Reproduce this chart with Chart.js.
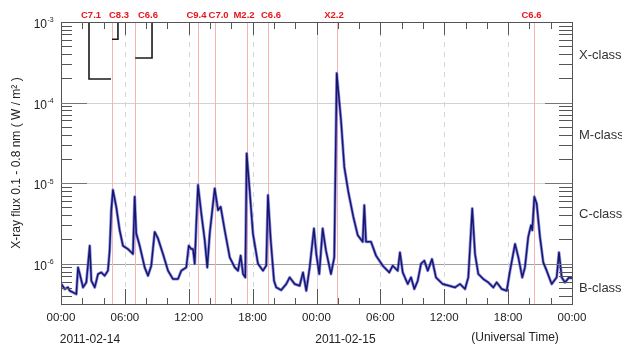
<!DOCTYPE html>
<html><head><meta charset="utf-8">
<script src="https://cdn.jsdelivr.net/npm/chart.js@4.4.1/dist/chart.umd.min.js"></script>
<style>html,body{margin:0;padding:0;background:#fff;}canvas{display:block}</style>
</head><body>
<canvas id="c" width="622" height="348"></canvas>
<script>
// Hours since 2011-02-14 00:00 UT
const hours = [0.03,0.35,0.66,0.82,1.13,1.44,1.60,1.76,2.07,2.38,2.70,2.85,3.17,3.48,3.79,4.10,4.41,4.57,4.72,4.88,5.19,5.51,5.82,6.29,6.76,6.92,7.07,7.39,7.86,8.17,8.48,8.80,9.11,9.58,10.05,10.52,10.99,11.30,11.77,12.00,12.24,12.40,12.56,12.71,12.87,13.18,13.50,13.74,13.97,14.44,14.75,15.00,15.38,15.85,16.32,16.63,16.88,17.10,17.31,17.44,17.72,18.03,18.50,18.97,19.28,19.44,19.70,20.01,20.22,20.69,21.16,21.48,21.95,22.42,22.73,23.04,23.36,23.76,23.98,24.26,24.58,24.89,25.36,25.67,25.90,26.30,26.61,26.99,27.46,27.87,28.34,28.49,28.65,29.12,29.59,30.22,30.84,31.16,31.63,31.84,32.10,32.57,32.88,33.19,33.51,33.82,34.13,34.45,34.85,35.22,35.85,36.47,37.01,37.48,37.95,38.26,38.63,38.89,39.20,39.67,40.14,40.61,40.93,41.40,41.87,42.18,42.65,42.96,43.33,43.58,43.89,44.15,44.27,44.46,44.68,44.99,45.30,45.62,46.09,46.56,46.78,47.03,47.34,47.72,48.00];
// X-ray flux 0.1-0.8 nm (W/m^2)
const flux = [5.6e-7,4.85e-7,5.08e-7,4.62e-7,4.4e-7,4.2e-7,9.0e-7,7.5e-7,5.08e-7,5.86e-7,1.67e-6,6.15e-7,5.08e-7,7.45e-7,7.8e-7,7.1e-7,8.2e-7,1.45e-6,4.62e-6,8.2e-6,5.08e-6,2.6e-6,1.67e-6,1.52e-6,1.32e-6,6.76e-6,2.37e-6,1.67e-6,9.0e-7,7.1e-7,9.45e-7,2.48e-6,2.06e-6,1.32e-6,8.2e-7,6.45e-7,6.45e-7,8.2e-7,9.0e-7,1.67e-6,1.52e-6,1.52e-6,1.0e-6,3.18e-6,9.45e-6,4.2e-6,1.96e-6,9.0e-7,2.37e-6,8.6e-6,4.62e-6,5.08e-6,2.6e-6,1.2e-6,9.0e-7,8.2e-7,1.26e-6,7.45e-7,6.76e-7,2.34e-5,8.2e-6,2.37e-6,1.0e-6,8.2e-7,9.45e-7,7.1e-6,1.96e-6,6.15e-7,5.08e-7,4.71e-7,5.6e-7,6.76e-7,5.6e-7,5.33e-7,7.8e-7,4.62e-7,9.0e-7,2.73e-6,1.32e-6,7.45e-7,2.73e-6,1.45e-6,7.45e-7,1.2e-6,2.31e-4,6.07e-5,1.59e-5,7.8e-6,3.81e-6,2.26e-6,1.87e-6,5.33e-6,1.87e-6,1.87e-6,1.26e-6,9.45e-7,7.8e-7,9.45e-7,8.2e-7,1.38e-6,7.8e-7,5.6e-7,6.76e-7,4.85e-7,6.15e-7,1.0e-6,1.09e-6,8.2e-7,1.14e-6,6.76e-7,5.6e-7,5.33e-7,5.08e-7,5.6e-7,4.85e-7,6.76e-7,4.85e-6,1.32e-6,7.45e-7,6.45e-7,5.86e-7,5.08e-7,5.86e-7,4.85e-7,4.62e-7,8.2e-7,1.76e-6,1.2e-6,6.76e-7,9.0e-7,2.15e-6,3.0e-6,2.6e-6,6.76e-6,5.6e-6,2.15e-6,1.04e-6,8.2e-7,5.6e-7,6.76e-7,1.38e-6,6.76e-7,5.86e-7,6.76e-7,6.6e-7];

const flareHours = [4.79, 6.97, 12.87, 14.44, 17.44, 19.44, 25.90, 44.46];
const flareLabels = ['C7.1','C8.3','C6.6','C9.4','C7.0','M2.2','C6.6','X2.2','C6.6'];
const flareLabelHours = [2.82, 5.45, 8.17, 12.72, 14.8, 17.19, 19.73, 25.64, 44.2];
const bracketHours = [[2.63,2.63,4.70],[4.79,5.35,5.35],[6.97,8.55,8.55]];
const bracketFlux = [[1.5e-3,1.96e-4,1.96e-4],[6.1e-4,6.1e-4,1.5e-3],[3.57e-4,3.57e-4,1.5e-3]];
const classNames = ['X-class','M-class','C-class','B-class'];
const classLabelFlux = [3.9e-4, 3.9e-5, 4.1e-6, 5.0e-7];
const decadeExp = [-3,-4,-5,-6];
const dateLabels = ['2011-02-14','2011-02-15'];
const dateLabelHours = [2.72, 26.72];
const utLabel = '(Universal Time)';
const utLabelHour = 42.65;
const yMin = 3.1623e-7, yMax = 1e-3;

const FONT = '"Liberation Sans", Arial, Helvetica, sans-serif';

function ln(ctx,x1,y1,x2,y2){ctx.beginPath();ctx.moveTo(x1,y1);ctx.lineTo(x2,y2);ctx.stroke();}
const al = v => Math.round(v)+0.5;

const decor = {
  id:'decor',
  beforeDatasetsDraw(chart){
    const {ctx, chartArea:a, scales:{x,y}} = chart;
    ctx.save();
    ctx.lineWidth = 1;
    [1e-4,1e-5,1e-6].forEach(v=>{
      const py = al(y.getPixelForValue(v));
      ctx.strokeStyle = v===1e-6 ? '#a0a0a0' : '#d2d2d2';
      ln(ctx,a.left,py,a.right,py);
    });
    for(let h=6;h<48;h+=6){
      const px = al(x.getPixelForValue(h));
      if(h%24===0){ctx.setLineDash([]);ctx.strokeStyle='#d8d8d8';}
      else {ctx.setLineDash([5,5]);ctx.strokeStyle='#d6d6d6';}
      ln(ctx,px,a.top,px,a.bottom);
    }
    ctx.setLineDash([]);
    ctx.strokeStyle = '#f5b4b4';
    flareHours.forEach(h=>{const px=al(x.getPixelForValue(h)); ln(ctx,px,a.top,px,a.bottom);});
    ctx.restore();
  },
  afterDatasetsDraw(chart){
    const {ctx, chartArea:a, scales:{x,y}} = chart;
    ctx.save();
    ctx.lineWidth = 1;
    ctx.strokeStyle = '#555';
    ctx.strokeRect(al(a.left), al(a.top), Math.round(a.right)-Math.round(a.left), Math.round(a.bottom)-Math.round(a.top));
    for(let h=2;h<48;h+=2){
      const px = al(x.getPixelForValue(h));
      const major = h%6===0;
      ln(ctx,px,a.bottom,px,a.bottom-(major?15:6));
      ln(ctx,px,a.top,px,a.top+(major?13:7));
    }
    for(let e=-7;e<=-4;e++){
      for(let m=2;m<=9;m++){
        const v=m*Math.pow(10,e);
        if(v<yMin||v>yMax) continue;
        const py=al(y.getPixelForValue(v));
        ln(ctx,a.left,py,a.left+11,py);
        ln(ctx,a.right,py,a.right-13,py);
      }
    }
    ctx.strokeStyle='#777';
    [1e-4,1e-5,1e-6].forEach(v=>{
      const py=al(y.getPixelForValue(v));
      ln(ctx,a.left,py,a.left+26,py);
      ln(ctx,a.right,py,a.right-27,py);
    });
    ctx.fillStyle='#222';
    decadeExp.forEach(e=>{
      const py=y.getPixelForValue(Math.pow(10,e));
      ctx.font='12px '+FONT; ctx.textAlign='right'; ctx.textBaseline='middle';
      ctx.fillText('10',47,py+3);
      ctx.font='7px '+FONT; ctx.textAlign='left';
      ctx.fillText(String(e),47.5,py-1.5);
    });
    ctx.save();
    ctx.translate(17,163); ctx.rotate(-Math.PI/2);
    ctx.font='12px '+FONT; ctx.textAlign='center'; ctx.textBaseline='middle'; ctx.fillStyle='#222';
    ctx.fillText('X-ray flux 0.1 - 0.8 nm ( W / m\u00B2 )',0,0);
    ctx.restore();
    ctx.font='13px '+FONT; ctx.textAlign='left'; ctx.textBaseline='middle'; ctx.fillStyle='#333';
    classNames.forEach((n,i)=>ctx.fillText(n,a.right+7,y.getPixelForValue(classLabelFlux[i])));
    ctx.font='bold 9.5px '+FONT; ctx.textAlign='center'; ctx.fillStyle='#e8141c';
    flareLabels.forEach((n,i)=>ctx.fillText(n,x.getPixelForValue(flareLabelHours[i]),15.5));
    ctx.font='12px '+FONT; ctx.fillStyle='#222';
    dateLabels.forEach((d,i)=>ctx.fillText(d,x.getPixelForValue(dateLabelHours[i]),339.5));
    ctx.fillText(utLabel,x.getPixelForValue(utLabelHour),337.5);
    ctx.restore();
  }
};

const series = hours.map((h,i)=>({x:h,y:flux[i]}));
const brackets = bracketHours.map((hs,k)=>({
  data: hs.map((h,i)=>({x:h,y:bracketFlux[k][i]})),
  borderColor:'#1a1a1a', borderWidth:1.6, pointRadius:0, fill:false, tension:0
}));

new Chart(document.getElementById('c'),{
  type:'line',
  data:{datasets:[
    {data:series, borderColor:'#17176a', borderWidth:1.5, pointRadius:0, tension:0, borderJoinStyle:'round'},
    {data:series, borderColor:'rgba(70,70,215,0.6)', borderWidth:3, pointRadius:0, tension:0, borderJoinStyle:'round'},
    ...brackets
  ]},
  options:{
    responsive:false, animation:false, devicePixelRatio:1,
    layout:{padding:{top:22,left:0,right:0,bottom:0}},
    plugins:{legend:{display:false}, tooltip:{enabled:false}},
    scales:{
      x:{type:'linear', min:0, max:48,
        grid:{display:false, drawTicks:false}, border:{display:false},
        ticks:{stepSize:6, padding:7, color:'#222', font:{size:11.5, family:FONT},
          maxRotation:0, autoSkip:false,
          callback:v=>String(v%24).padStart(2,'0')+':00'},
        afterFit:s=>{s.height=44;}
      },
      y:{type:'logarithmic', min:yMin, max:yMax, position:'left',
        grid:{display:false, drawTicks:false}, border:{display:false},
        ticks:{display:false},
        afterFit:s=>{s.width=61;}
      },
      y2:{type:'linear', position:'right', min:0, max:1,
        grid:{display:false, drawTicks:false}, border:{display:false},
        ticks:{display:false},
        afterFit:s=>{s.width=50;}
      }
    }
  },
  plugins:[decor]
});
</script>
</body></html>
